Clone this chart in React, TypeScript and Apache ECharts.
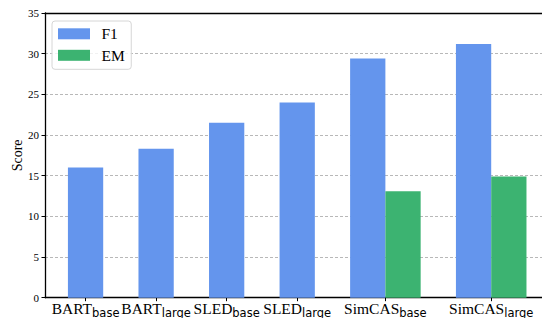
import React, { useEffect, useRef } from "react";
import * as echarts from "echarts";

const models = ["BART", "BART", "SLED", "SLED", "SimCAS", "SimCAS"];
const sizes = ["base", "large", "base", "large", "base", "large"];
const labelPositions = [0, 1, 2, 3, 4.25, 5.75];
const f1Positions = [0, 1, 2, 3, 4, 5.5];
const f1Values = [16.0, 18.3, 21.5, 24.0, 29.4, 31.2];
const emPositions = [4.5, 6];
const emValues = [13.1, 14.9];
const yTicks = [0, 5, 10, 15, 20, 25, 30, 35];
const barWidthUnits = 0.5;

const FONT = "'Liberation Serif', 'DejaVu Serif', serif";
const SUBFONT = "'DejaVu Sans', sans-serif";

function renderBar(params: any, api: any) {
  const x = api.value(0);
  const y = api.value(1);
  const top = api.coord([x - barWidthUnits / 2, y]);
  const bottom = api.coord([x + barWidthUnits / 2, 0]);
  return {
    type: "rect",
    shape: { x: top[0], y: top[1], width: bottom[0] - top[0], height: bottom[1] - top[1] },
    style: { fill: api.visual("color") },
  };
}

export default function App() {
  const ref = useRef<HTMLDivElement>(null);
  useEffect(() => {
    if (!ref.current) return;
    const chart = echarts.init(ref.current, null, { renderer: "svg" });
    const labelMap: Record<string, string> = {};
    labelPositions.forEach((p, i) => {
      labelMap[String(p)] = `{m|${models[i]}}{s|${sizes[i]}}`;
    });
    chart.setOption({
      animation: false,
      backgroundColor: "#ffffff",
      textStyle: { fontFamily: FONT },
      grid: { left: 45, right: 0, top: 13, bottom: 20.3, containLabel: false, outerBoundsMode: "none" },
      legend: {
        left: 52,
        top: 21,
        orient: "vertical",
        itemWidth: 32,
        itemHeight: 11,
        itemGap: 5.5,
        padding: [4.8, 6.5, 6, 6],
        borderColor: "#d6d6d6",
        borderWidth: 1,
        borderRadius: 3,
        backgroundColor: "rgba(255,255,255,0.8)",
        textStyle: { fontFamily: FONT, fontSize: 15.5, lineHeight: 16, color: "#000", padding: [0, 0, 0, 6.5] },
        data: [
          { name: "F1", icon: "rect" },
          { name: "EM", icon: "rect" },
        ],
      },
      xAxis: [
        {
          type: "value",
          min: -0.575,
          max: 6.47,
          axisLine: { show: true, onZero: false, lineStyle: { color: "#000", width: 1.3 } },
          splitLine: { show: false },
          axisTick: {
            show: true,
            length: 3.5,
            customValues: labelPositions,
            lineStyle: { color: "#000" },
          },
          axisLabel: {
            customValues: labelPositions,
            margin: 3,
            formatter: (v: number) => labelMap[String(v)] ?? "",
            rich: {
              m: { fontFamily: FONT, fontSize: 15.5, color: "#000", verticalAlign: "bottom", lineHeight: 16 },
              s: { fontFamily: SUBFONT, fontSize: 11.5, color: "#000", verticalAlign: "bottom", lineHeight: 12, padding: [0, 0, -2.5, 0] },
            },
          },
        },
        {
          type: "value",
          position: "top",
          min: -0.575,
          max: 6.47,
          axisLine: { show: true, onZero: false, lineStyle: { color: "#000", width: 1.3 } },
          axisTick: { show: false },
          axisLabel: { show: false },
          splitLine: { show: false },
        },
      ],
      yAxis: {
        type: "value",
        min: 0,
        max: 35,
        interval: 5,
        position: "left",
        name: "Score",
        nameLocation: "middle",
        nameRotate: 90,
        nameGap: 21,
        nameMoveOverlap: false,
        nameTextStyle: { fontFamily: FONT, fontSize: 14, color: "#000" },
        axisLine: { show: true, onZero: false, lineStyle: { color: "#000", width: 1.3 } },
        axisTick: { show: true, length: 3.5, lineStyle: { color: "#000" } },
        axisLabel: {
          margin: 6,
          fontFamily: FONT,
          fontSize: 11,
          color: "#000",
          formatter: (v: number) => (yTicks.includes(v) ? String(v) : ""),
        },
        splitLine: { show: true, lineStyle: { color: "#b8b8b8", type: [3, 2], width: 1 } },
      },
      series: [
        {
          name: "F1",
          type: "custom",
          renderItem: renderBar,
          itemStyle: { color: "#6495ED" },
          encode: { x: 0, y: 1 },
          data: f1Positions.map((x, i) => [x, f1Values[i]]),
        },
        {
          name: "EM",
          type: "custom",
          renderItem: renderBar,
          itemStyle: { color: "#3CB371" },
          encode: { x: 0, y: 1 },
          data: emPositions.map((x, i) => [x, emValues[i]]),
        },
      ],
    });
    return () => chart.dispose();
  }, []);
  return (
    <div
      ref={ref}
      style={{ position: "fixed", left: 0, top: 0, width: 542, height: 318 }}
    />
  );
}
